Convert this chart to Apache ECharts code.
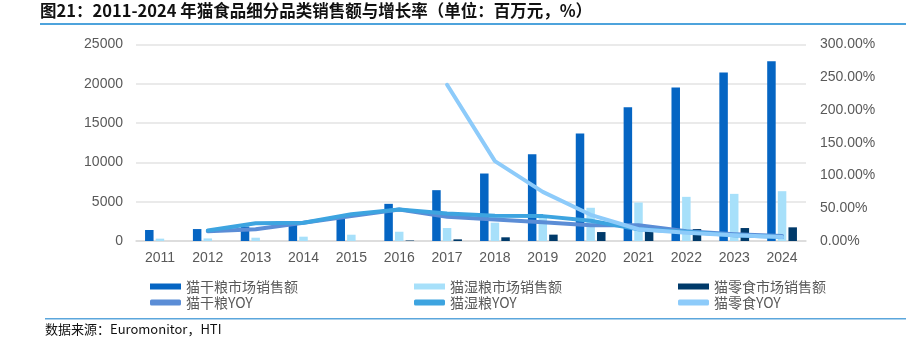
<!DOCTYPE html>
<html>
<head>
<meta charset="utf-8">
<script src="https://cdn.jsdelivr.net/npm/echarts@6/dist/echarts.min.js"></script>
<style>
html,body{margin:0;padding:0;background:#fff;}
#c{width:906px;height:337px;}
</style>
</head>
<body>
<div id="c"></div>
<script>
const categories = ['2011','2012','2013','2014','2015','2016','2017','2018','2019','2020','2021','2022','2023','2024'];
const dryValues = [1400, 1520, 1850, 2300, 3150, 4730, 6470, 8590, 11040, 13670, 17040, 19540, 21450, 22880];
const wetValues = [300, 330, 420, 550, 800, 1180, 1650, 2330, 3230, 4230, 4900, 5620, 6000, 6340];
const snackValues = [null, null, null, null, null, 62, 210, 470, 810, 1140, 1350, 1520, 1650, 1740];
const dryYoy = [null, 15, 18, 28, 38, 48, 37, 33, 28.5, 24, 24, 15, 10.5, 7.5];
const wetYoy = [null, 16, 27, 28, 41, 48, 42, 38.5, 38, 31, 18, 14, 8.6, 6];
const snackYoy = [null, null, null, null, null, null, 238.6, 122, 75, 40, 18, 12.7, 8.6, 6];
const leftTicks = [0, 5000, 10000, 15000, 20000, 25000];
const rightTicks = [0, 50, 100, 150, 200, 250, 300];

const names = {
  dry: '猫干粮市场销售额', wet: '猫湿粮市场销售额', snack: '猫零食市场销售额',
  dryY: '猫干粮YOY', wetY: '猫湿粮YOY', snackY: '猫零食YOY'
};
const colors = {
  dry: '#0565C3', wet: '#A7E0FA', snack: '#003A6A',
  dryY: '#5B8DD6', wetY: '#3DA4E0', snackY: '#8DCBFA'
};
const font = '"Liberation Sans", Arial, sans-serif';
const cjk = '"Noto Sans CJK SC", sans-serif';

const chart = echarts.init(document.getElementById('c'));
const legendBase = {
  orient: 'vertical', top: 274, itemWidth: 31, itemHeight: 6, itemGap: 1,
  textStyle: { fontSize: 14, color: '#595959', fontFamily: cjk, lineHeight: 15 },
  selectedMode: false
};
function legendCol(left, barName, lineName, lineColor) {
  return Object.assign({}, legendBase, {
    left,
    data: [
      { name: barName, icon: 'rect' },
      { name: lineName, icon: 'roundRect', itemStyle: { color: lineColor } }
    ]
  });
}
function lineSeries(name, data, color) {
  return {
    name, type: 'line', yAxisIndex: 1, data, symbol: 'none', showSymbol: false,
    connectNulls: false, z: 5,
    lineStyle: { width: 4, color, cap: 'round', join: 'round' },
    itemStyle: { color }
  };
}
function barSeries(name, data, color) {
  return {
    name, type: 'bar', data, barWidth: 8.5, barGap: '25%',
    itemStyle: { color }
  };
}
chart.setOption({
  animation: false,
  grid: { left: 136, right: 100, top: 44.6, bottom: 96 },
  legend: [
    legendCol(145, names.dry, names.dryY, colors.dryY),
    legendCol(409, names.wet, names.wetY, colors.wetY),
    legendCol(673, names.snack, names.snackY, colors.snackY)
  ],
  xAxis: {
    type: 'category', data: categories, boundaryGap: true,
    axisLine: { show: true, lineStyle: { color: '#D9D9D9', width: 1.5 } },
    axisTick: { show: false },
    axisLabel: { fontSize: 14, color: '#595959', fontFamily: font, margin: 10 }
  },
  yAxis: [
    {
      type: 'value', min: leftTicks[0], max: leftTicks[leftTicks.length - 1], interval: 5000,
      axisLine: { show: false }, axisTick: { show: false },
      axisLabel: { fontSize: 14, color: '#595959', fontFamily: font, margin: 13,
        formatter: v => String(v) },
      splitLine: { lineStyle: { color: '#E3E3E3', width: 1.5 } }
    },
    {
      type: 'value', min: rightTicks[0], max: rightTicks[rightTicks.length - 1], interval: 50,
      axisLine: { show: false }, axisTick: { show: false },
      axisLabel: { fontSize: 14, color: '#595959', fontFamily: font, margin: 14,
        formatter: v => v.toFixed(2) + '%' },
      splitLine: { show: false }
    }
  ],
  series: [
    barSeries(names.dry, dryValues, colors.dry),
    barSeries(names.wet, wetValues, colors.wet),
    barSeries(names.snack, snackValues, colors.snack),
    lineSeries(names.dryY, dryYoy, colors.dryY),
    lineSeries(names.wetY, wetYoy, colors.wetY),
    lineSeries(names.snackY, snackYoy, colors.snackY)
  ],
  graphic: [
    { type: 'text', left: 40, top: 2,
      style: { text: '图21：2011-2024 年猫食品细分品类销售额与增长率（单位：百万元，%）',
        font: 'bold 16.5px "Noto Sans CJK SC", sans-serif', fill: '#111' } },
    { type: 'rect', shape: { x: 40, y: 23, width: 866, height: 2 }, style: { fill: '#4DA3DC' } },
    { type: 'rect', shape: { x: 45, y: 318, width: 861, height: 1.5 }, style: { fill: '#5BA6DC' } },
    { type: 'text', left: 45, top: 323,
      style: { text: '数据来源：Euromonitor，HTI',
        font: '13px "Noto Sans CJK SC", sans-serif', fill: '#111' } }
  ]
});
</script>
</body>
</html>
